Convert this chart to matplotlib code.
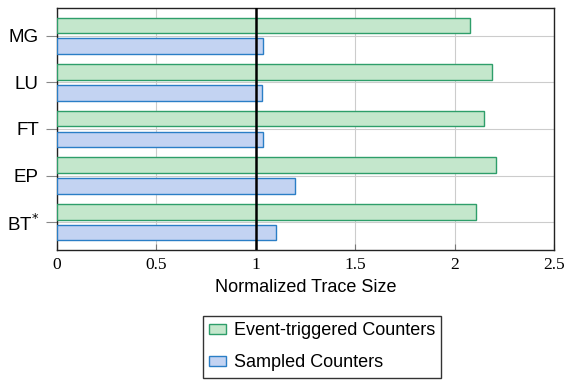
import numpy as np
import matplotlib
matplotlib.use("Agg")
import matplotlib.pyplot as plt

# datos
categorias = ["BT$^{*}$", "EP", "FT", "LU", "MG"]
event_triggered = [2.106, 2.207, 2.150, 2.190, 2.076]
sampled = [1.103, 1.199, 1.035, 1.033, 1.035]
xticks = [0, 0.5, 1, 1.5, 2, 2.5]
xtick_labels = ["0", "0.5", "1", "1.5", "2", "2.5"]

verde_fill, verde_borde = "#c4e7cc", "#2e9e6a"
azul_fill, azul_borde = "#c3d3f2", "#2a7ec6"

fig = plt.figure(figsize=(5.65, 3.81), dpi=100)
ax = fig.add_axes([57 / 565, 1 - 250 / 381, (554 - 57) / 565, (250 - 8) / 381])

y = np.arange(len(categorias))
alto = 0.34
off = 0.225
ax.barh(y + off, event_triggered, height=alto, color=verde_fill,
        edgecolor=verde_borde, linewidth=1, label="Event-triggered Counters", zorder=3)
ax.barh(y - off, sampled, height=alto, color=azul_fill,
        edgecolor=azul_borde, linewidth=1, label="Sampled Counters", zorder=3)

ax.axvline(1, color="black", linewidth=1.8, zorder=4)

ax.set_xlim(0, 2.5)
ax.set_ylim(-0.6, len(categorias) - 0.4)
ax.set_yticks(y)
ax.set_yticklabels(categorias, fontsize=13.5, family="Liberation Sans")
ax.set_xticks(xticks)
ax.set_xticklabels(xtick_labels, fontsize=12.5, family="Liberation Serif")
ax.tick_params(axis="x", direction="in", length=4, color="#777777", pad=5)
ax.tick_params(axis="y", direction="out", length=8, color="#888888", pad=5)
ax.grid(True, color="#cccccc", linewidth=0.8, zorder=0)
for s in ax.spines.values():
    s.set_linewidth(1.0)
    s.set_color("#222222")

ax.set_xlabel("Normalized Trace Size", fontsize=13, family="Liberation Sans", labelpad=4)

leg = fig.legend(loc="upper left", bbox_to_anchor=(203 / 565, 1 - 316 / 381),
                 prop={"family": "Liberation Sans", "size": 13},
                 frameon=True, fancybox=False, edgecolor="black",
                 handlelength=0.95, handleheight=0.5, handletextpad=0.4,
                 labelspacing=0.84, borderpad=0.35, borderaxespad=0)
leg.get_frame().set_linewidth(1.0)

plt.savefig("out.png", dpi=100)
